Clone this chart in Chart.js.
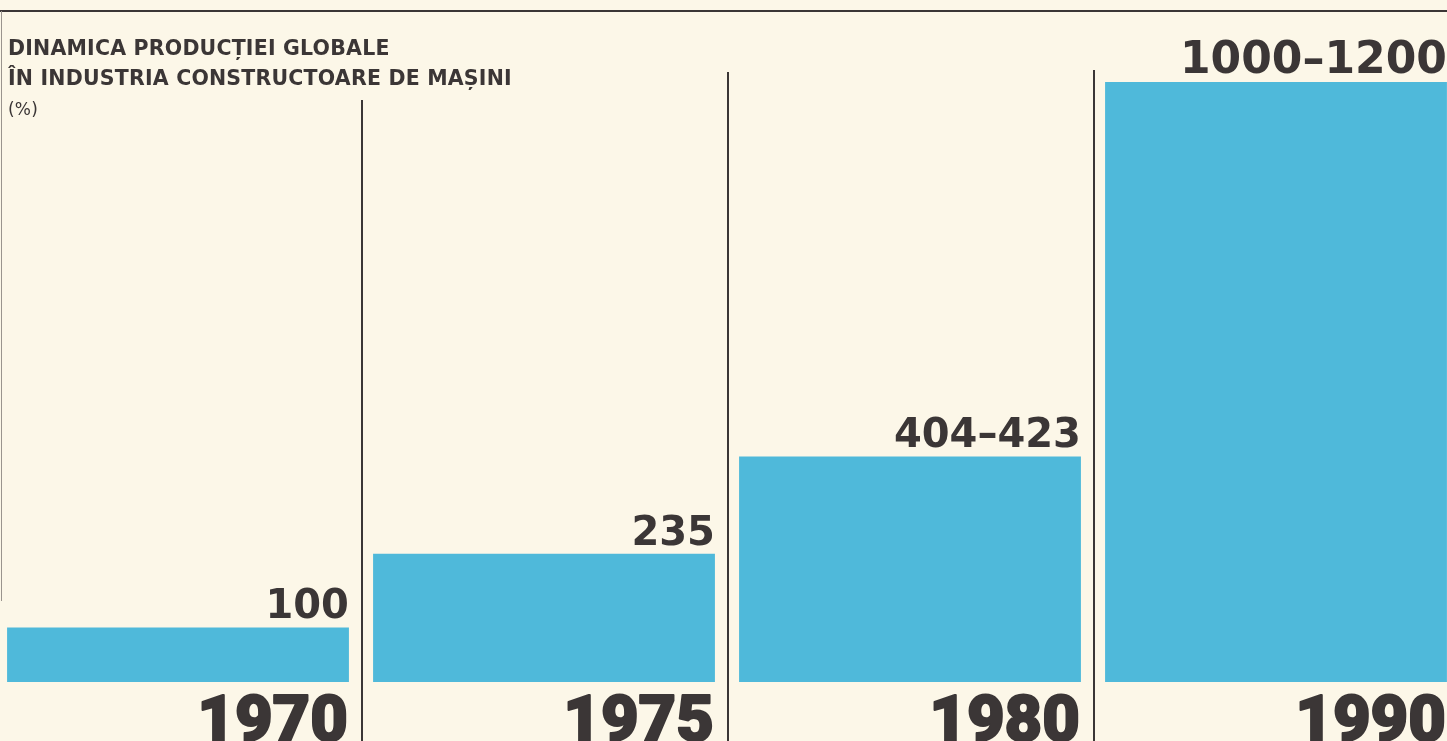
<!DOCTYPE html>
<html>
<head>
<meta charset="utf-8">
<script src="https://cdn.jsdelivr.net/npm/chart.js@4"></script>
<style>
  html, body { margin: 0; padding: 0; background: #fcf7e8; overflow: hidden; }
  body { width: 1447px; height: 741px; position: relative; }
  #topline { position: absolute; left: 0; top: 10px; width: 1447px; height: 2px; background: #3b3636; }
  #leftline { position: absolute; left: 1px; top: 11px; width: 1px; height: 590px; background: #9a948e; }
  #title { position: absolute; left: 8px; top: 33px; font-family: "DejaVu Sans", sans-serif; font-weight: bold;
           font-size: 20.5px; line-height: 30px; color: #3b3636; letter-spacing: 0.2px; }
  #title .pct { font-size: 17px; font-weight: normal; }
  #wrap { position: absolute; left: -5px; top: 0; width: 1464px; height: 741px; }
</style>
</head>
<body>
<div id="topline"></div>
<div id="leftline"></div>
<div id="wrap"><canvas id="machineChart"></canvas></div>
<div id="title">DINAMICA PRODUCȚIEI GLOBALE<br>ÎN INDUSTRIA CONSTRUCTOARE DE MAȘINI<br><span class="pct">(%)</span></div>
<script>
var years = ['1970', '1975', '1980', '1990'];
var growth = [100, 235, 413.5, 1100];   // middle of the range where a range is given
var growthLabels = ['100', '235', '404–423', '1000–1200'];

var ink = '#3b3636';

var dividerTops = [100, 72, 70];

var labelsPlugin = {
  id: 'labels',
  beforeDatasetsDraw: function(chart) {
    var ctx = chart.ctx;
    var xs = chart.scales.x;
    ctx.save();
    ctx.strokeStyle = ink;
    ctx.lineWidth = 2;
    for (var i = 0; i < years.length - 1; i++) {
      var x = (xs.getPixelForValue(i) + xs.getPixelForValue(i + 1)) / 2 + 1;
      ctx.beginPath();
      ctx.moveTo(x, dividerTops[i]);
      ctx.lineTo(x, chart.height);
      ctx.stroke();
    }
    ctx.restore();
  },
  afterDatasetsDraw: function(chart) {
    var ctx = chart.ctx;
    var bars = chart.getDatasetMeta(0).data;
    ctx.save();
    ctx.fillStyle = ink;
    ctx.strokeStyle = ink;
    ctx.lineJoin = 'round';
    ctx.textAlign = 'right';
    ctx.textBaseline = 'alphabetic';
    bars.forEach(function(bar, i) {
      var right = bar.x + bar.width / 2;
      ctx.font = 'bold ' + (i == 3 ? 44 : 40) + 'px "DejaVu Sans", sans-serif';
      ctx.fillText(growthLabels[i], right, bar.y - 9);
      // heavy year figures
      ctx.font = '900 65px Roboto, "DejaVu Sans", sans-serif';
      ctx.lineWidth = 2;
      ctx.strokeText(years[i], right - 1, 741);
      ctx.fillText(years[i], right - 1, 741);
    });
    ctx.restore();
  }
};

new Chart(document.getElementById('machineChart'), {
  type: 'bar',
  data: {
    labels: years,
    datasets: [{
      data: growth,
      backgroundColor: '#4fb9da',
      borderWidth: 0,
      categoryPercentage: 1,
      barPercentage: 0.934
    }]
  },
  options: {
    responsive: true,
    maintainAspectRatio: false,
    animation: false,
    layout: { padding: { top: 82, bottom: 59, left: 0, right: 0 } },
    plugins: { legend: { display: false }, tooltip: { enabled: false }, title: { display: false } },
    scales: {
      x: { display: false },
      y: { display: false, min: 0, max: 1100 }
    }
  },
  plugins: [labelsPlugin]
});
</script>
</body>
</html>
